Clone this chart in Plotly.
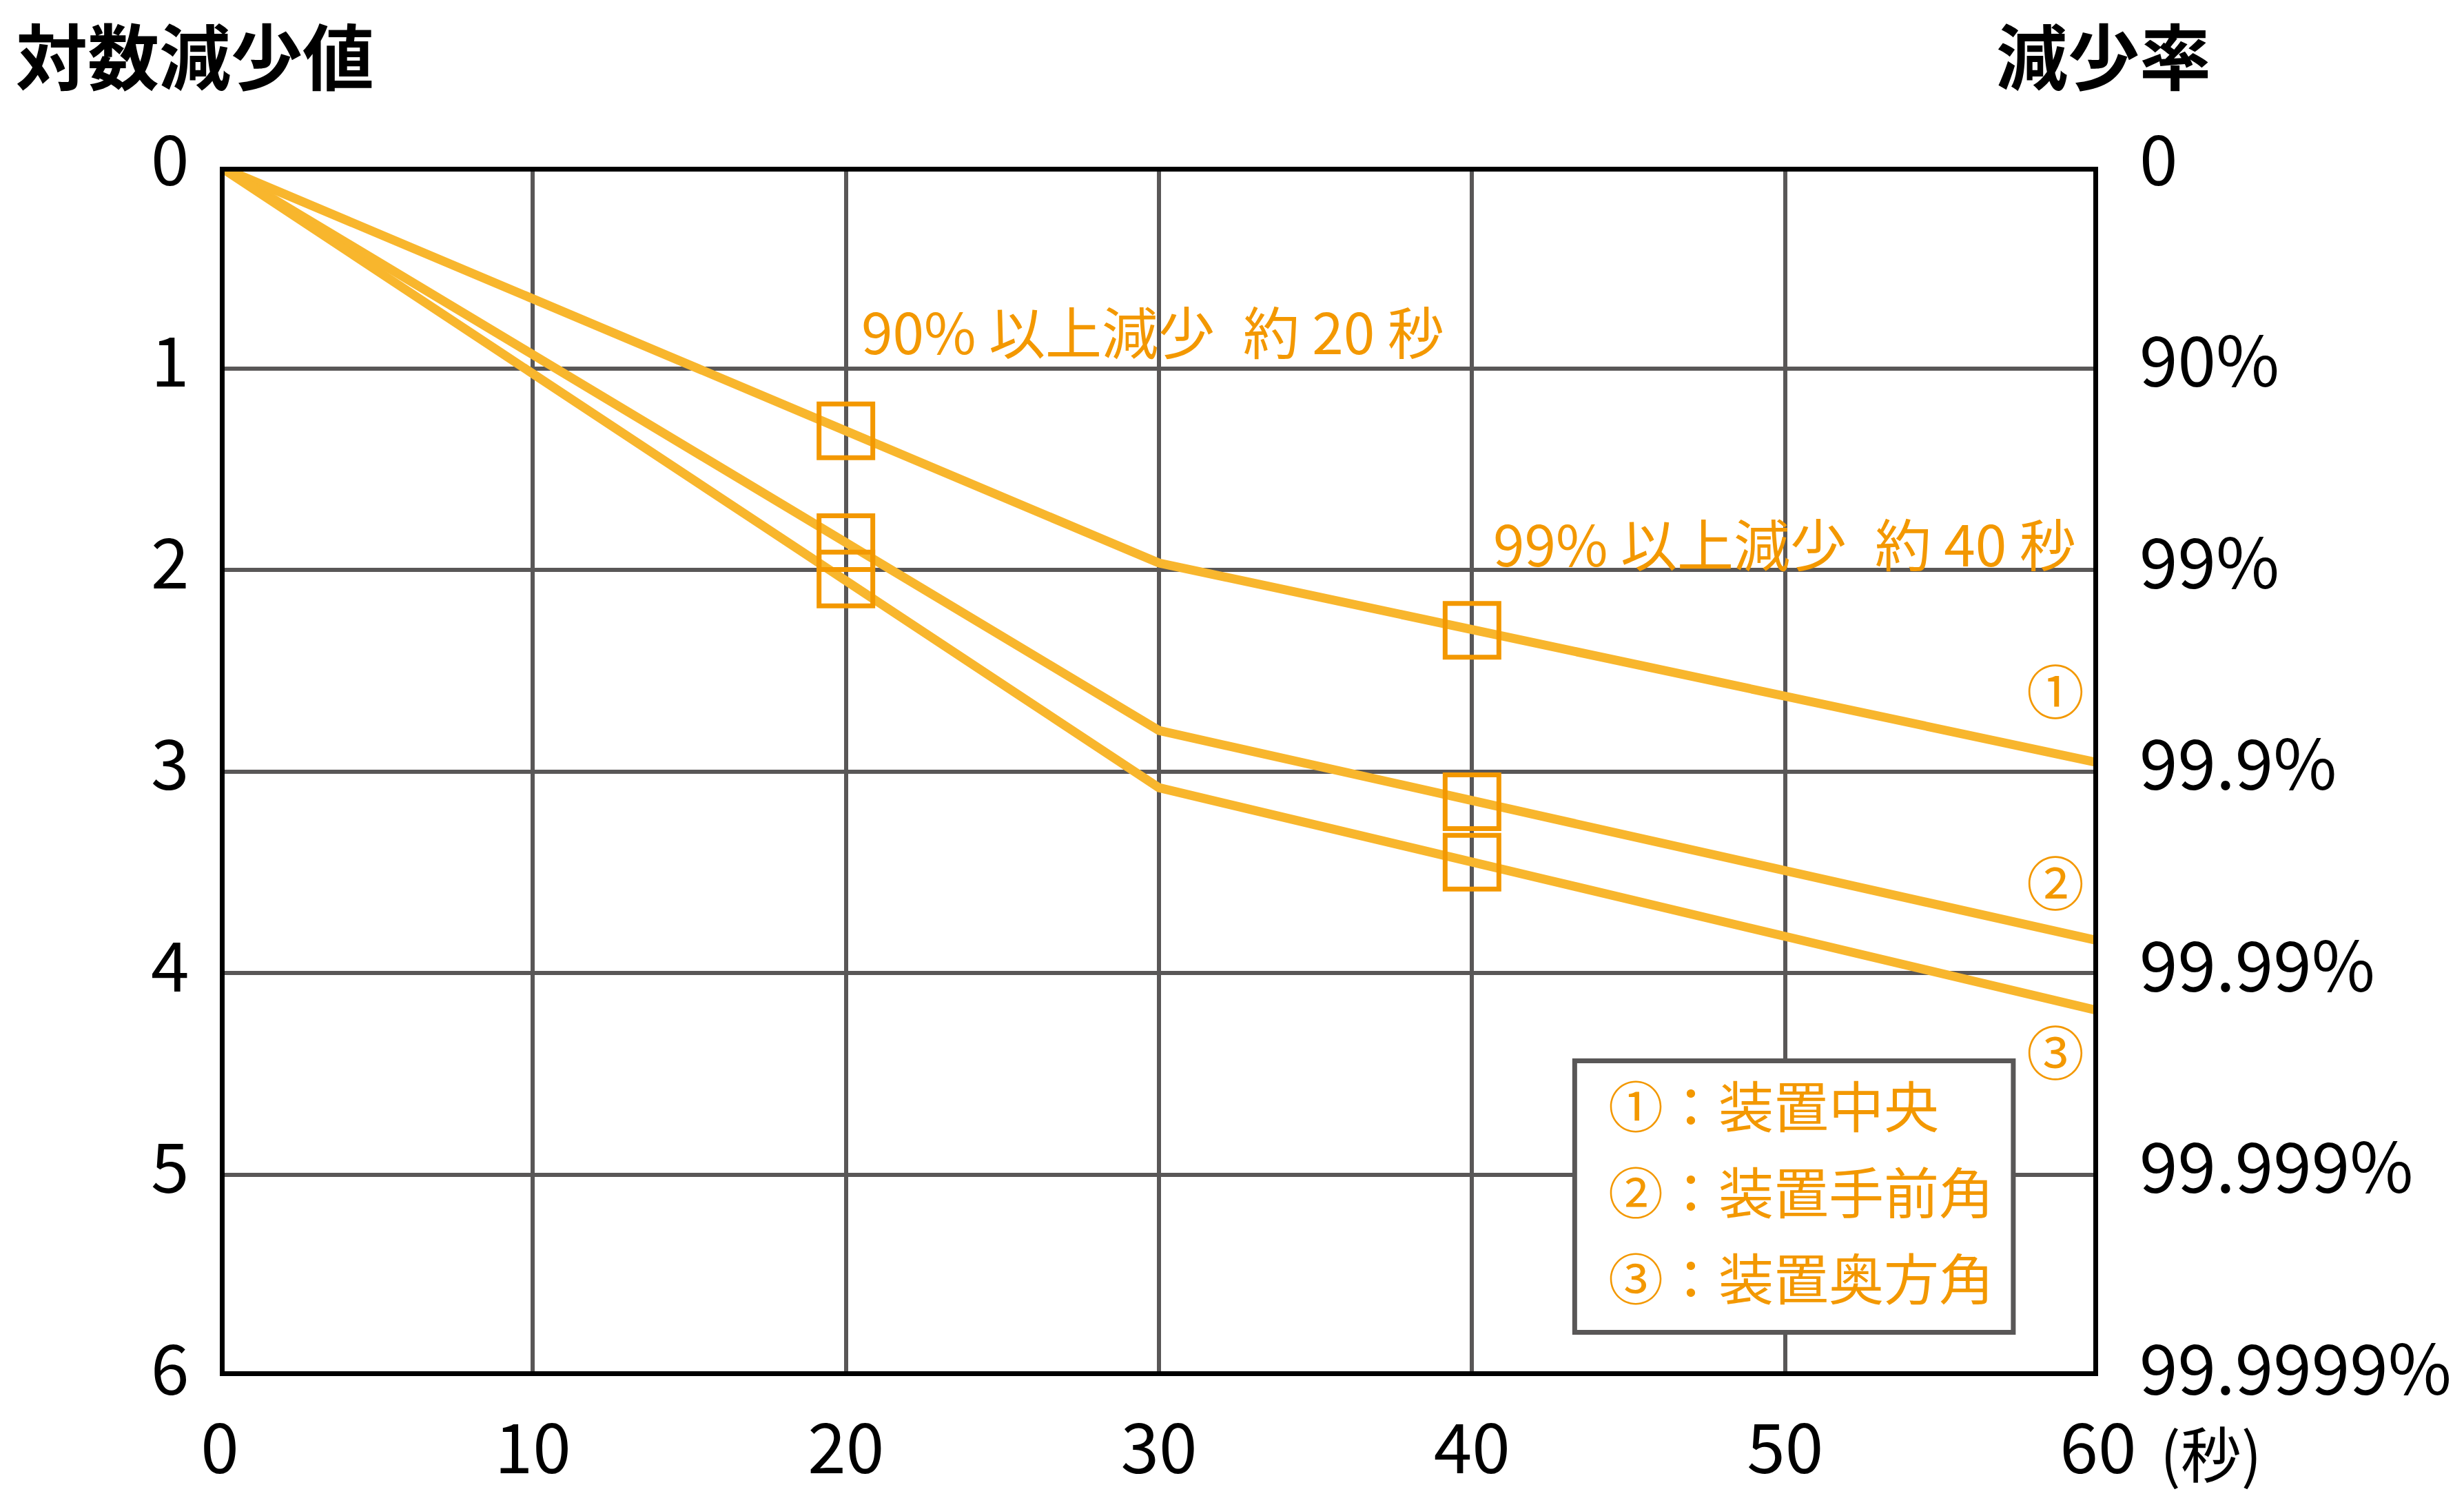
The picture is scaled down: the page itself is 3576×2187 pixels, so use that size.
import plotly.graph_objects as go

# ---------------- data ----------------
series_names = ["装置中央", "装置手前角", "装置奥方角"]
circle_marks = ["①", "②", "③"]
line_times = [0, 30, 60]
line_values = [
    [0.0, 1.966, 2.957],   # ① 装置中央
    [0.0, 2.797, 3.840],   # ② 装置手前角
    [0.0, 3.081, 4.187],   # ③ 装置奥方角
]
marker_times = [20, 40]
marker_values = [
    [1.31, 2.30],
    [1.865, 3.15],
    [2.045, 3.45],
]
x_ticks = [0, 10, 20, 30, 40, 50, 60]
x_ticktext = ["0", "10", "20", "30", "40", "50", "60"]
y_ticks = [0, 1, 2, 3, 4, 5, 6]
y_left_text = ["0", "1", "2", "3", "4", "5", "6"]
y_right_text = ["0", "90%", "99%", "99.9%", "99.99%", "99.999%", "99.9999%"]
note_texts = ["90% 以上減少\u2002約 20 秒", "99% 以上減少\u2002約 40 秒"]

# ---------------- styles ----------------
FONT = "Noto Sans CJK JP"
LINE_C = "#F8B62D"
MARK_C = "#F39800"
GRID_C = "#595757"

fig = go.Figure()
for vals, name in zip(line_values, series_names):
    fig.add_trace(go.Scatter(x=line_times, y=vals, mode="lines", name=name,
                             line=dict(color=LINE_C, width=13), showlegend=False))
for vals, name in zip(marker_values, series_names):
    fig.add_trace(go.Scatter(x=marker_times, y=vals, mode="markers", name=name,
                             marker=dict(symbol="square-open", size=78, color=MARK_C,
                                         line=dict(width=7, color=MARK_C)),
                             showlegend=False))

ann = []
# left y labels
for v, t in zip(y_ticks, y_left_text):
    ann.append(dict(xref="paper", x=0, yref="y", y=v, text=t, showarrow=False,
                    xanchor="right", yanchor="middle", xshift=-42, yshift=17,
                    font=dict(family=FONT, size=100, color="black")))
# right y labels
for v, t in zip(y_ticks, y_right_text):
    ann.append(dict(xref="paper", x=1, yref="y", y=v, text=t, showarrow=False,
                    xanchor="left", yanchor="middle", xshift=58, yshift=17,
                    font=dict(family=FONT, size=100, color="black")))
# axis titles
ann.append(dict(xref="paper", x=0, yref="paper", y=1, text="<b>対数減少値</b>", showarrow=False,
                xanchor="left", yanchor="top", xshift=-298, yshift=242,
                font=dict(family=FONT, size=104, color="black")))
ann.append(dict(xref="paper", x=1, yref="paper", y=1, text="<b>減少率</b>", showarrow=False,
                xanchor="left", yanchor="top", xshift=-150, yshift=242,
                font=dict(family=FONT, size=104, color="black")))
ann.append(dict(xref="x", x=60, yref="paper", y=0, text="(秒)", showarrow=False,
                xanchor="left", yanchor="middle", xshift=88, yshift=-108,
                font=dict(family=FONT, size=88, color="black")))
# notes
ann.append(dict(xref="x", x=20, yref="y", y=0.807, text=note_texts[0], showarrow=False,
                xanchor="left", yanchor="middle", xshift=20,
                font=dict(family=FONT, size=82, color=MARK_C)))
ann.append(dict(xref="x", x=40, yref="y", y=1.86, text=note_texts[1], showarrow=False,
                xanchor="left", yanchor="middle", xshift=29,
                font=dict(family=FONT, size=82, color=MARK_C)))
# circled numbers at line ends
for (cx, cy), m in zip([(58.64, 2.59), (58.64, 3.54), (58.64, 4.38)], circle_marks):
    ann.append(dict(xref="x", x=cx, yref="y", y=cy, text=m, showarrow=False,
                    xanchor="center", yanchor="middle",
                    font=dict(family=FONT, size=84, color=MARK_C)))
# legend text
for i, (m, name) in enumerate(zip(circle_marks, series_names)):
    ann.append(dict(xref="x", x=44.3, yref="y", y=4.646 + 0.4275 * i, text=m + "：" + name,
                    showarrow=False, xanchor="left", yanchor="middle",
                    font=dict(family=FONT, size=80, color=MARK_C)))

shapes = [
    dict(type="rect", xref="x", yref="y", x0=43.28, x1=57.29, y0=4.436, y1=5.783,
         line=dict(color=GRID_C, width=7), fillcolor="white", layer="above"),
    dict(type="rect", xref="x", yref="y", x0=0, x1=60, y0=0, y1=6,
         line=dict(color="black", width=14), fillcolor="rgba(0,0,0,0)", layer="above"),
]

fig.update_layout(
    width=3576, height=2187, autosize=False,
    margin=dict(l=319, r=531, t=242, b=190, pad=0),
    paper_bgcolor="white", plot_bgcolor="white",
    annotations=ann, shapes=shapes, showlegend=False,
    xaxis=dict(range=[0, 60], tickvals=x_ticks, ticktext=x_ticktext,
               showgrid=True, gridcolor=GRID_C, gridwidth=6, zeroline=False,
               showline=False, ticks="", ticklabelstandoff=40,
               tickfont=dict(family=FONT, size=100, color="black")),
    yaxis=dict(range=[6, 0], tickvals=y_ticks, showticklabels=False,
               showgrid=True, gridcolor=GRID_C, gridwidth=6, zeroline=False,
               showline=False, ticks=""),
)

fig.write_html("out.html", config={"displayModeBar": False},
               post_script="document.body.style.margin='0';document.body.style.overflow='hidden';")
